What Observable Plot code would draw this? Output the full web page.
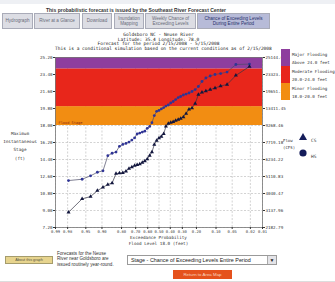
<!DOCTYPE html>
<html><head><meta charset="utf-8">
<script src="https://cdn.jsdelivr.net/npm/d3@7"></script>
<script src="https://cdn.jsdelivr.net/npm/@observablehq/plot@0.6"></script>
<style>
html,body{margin:0;padding:0;background:#fff;}
body{width:335px;height:282px;position:relative;overflow:hidden;font-family:"Liberation Sans",sans-serif;}
.a{position:absolute;white-space:nowrap;}
.tab{position:absolute;top:13px;height:16px;background:#dcdde4;border:1px solid #a9abb8;color:#6a6c7a;font-size:4.6px;line-height:5.5px;display:flex;align-items:center;justify-content:center;text-align:center;box-sizing:border-box;}
.tab.sel{background:#b7bbd8;color:#27306a;}
.mono{font-family:"DejaVu Sans Mono",monospace;}
.ttl{left:55px;width:207px;text-align:center;font-size:4.5px;color:#222;}
.lg{font-size:4.2px;color:#333;}
#chart{position:absolute;left:0;top:40px;}
</style></head><body>
<div class="a" style="left:0;top:0;width:335px;height:4px;background:#eef0f4;"></div>
<div class="a" style="left:0;top:7px;width:272px;text-align:center;font-size:5px;font-weight:bold;color:#333;">This probabilistic forecast is issued by the Southeast River Forecast Center</div>
<div class="tab" style="left:2px;width:31px;">Hydrograph</div>
<div class="tab" style="left:34px;width:46px;">River at a Glance</div>
<div class="tab" style="left:82px;width:30px;">Download</div>
<div class="tab" style="left:114px;width:30px;">Inundation<br>Mapping</div>
<div class="tab" style="left:145px;width:51px;">Weekly Chance of<br>Exceeding Levels</div>
<div class="tab sel" style="left:197px;width:73px;">Chance of Exceeding Levels<br>During Entire Period</div>

<div class="a mono ttl" style="top:32px;">Goldsboro NC - Neuse River</div>
<div class="a mono ttl" style="top:36.5px;">Latitude: 35.4   Longitude: 78.0</div>
<div class="a mono ttl" style="top:41px;">Forecast for the period 2/15/2008 - 5/15/2008</div>
<div class="a mono ttl" style="top:45.5px;">This is a conditional simulation based on the current conditions as of 2/15/2008</div>

<div id="chart"></div>

<div class="a mono" style="left:0;width:40px;top:130px;text-align:center;font-size:4.3px;line-height:8.2px;color:#333;">Maximum<br>Instantaneous<br>Stage<br>(ft)</div>
<div class="a mono" style="left:55px;width:207px;top:234.5px;text-align:center;font-size:4.3px;color:#333;">Exceedance Probability</div>
<div class="a mono" style="left:55px;width:207px;top:240.5px;text-align:center;font-size:4.3px;color:#333;">Flood Level 18.0 (feet)</div>

<div id="bandLegend"></div>
<div class="a mono" style="left:283px;top:137px;font-size:4px;line-height:7px;color:#333;">Flow<br>(CFS)</div>
<svg class="a" style="left:296px;top:130px;" width="30" height="32">
  <polygon points="7,3 11,10 3,10" fill="#141c5a"/>
  <circle cx="7" cy="23" r="3.6" fill="#141c5a"/>
  <text x="15" y="12" font-size="4.5" font-family="DejaVu Sans Mono" fill="#333">CS</text>
  <text x="15" y="28" font-size="4.5" font-family="DejaVu Sans Mono" fill="#333">HS</text>
</svg>

<div class="a" style="left:5px;top:256px;width:48px;height:8px;background:#e7d48e;border:1px solid #a59c6c;box-sizing:border-box;font-size:3.8px;line-height:6px;text-align:center;color:#554;">About this graph</div>
<div class="a" style="left:57px;top:251px;font-size:4.6px;line-height:5.4px;color:#333;">Forecasts for the Neuse<br>River near Goldsboro are<br>issued routinely year-round.</div>
<div class="a" style="left:127px;top:255px;width:150px;height:10px;border:1px solid #9a9a9a;box-sizing:border-box;font-size:5.4px;line-height:8px;padding-left:3px;color:#222;background:#fff;">Stage - Chance of Exceeding Levels Entire Period
  <div class="a" style="right:0;top:0;width:8px;height:8px;background:#e4e4e8;border-left:1px solid #aaa;font-size:5px;line-height:8px;text-align:center;">&#9660;</div></div>
<div class="a" style="left:173px;top:270px;width:59px;height:9px;background:#e5521d;font-size:4.4px;line-height:9px;text-align:center;color:#f8d8c0;">Return to Area Map</div>
<div class="a" style="left:0;top:281px;width:335px;height:1px;background:#ddd;"></div>

<script>
// ---- data ----
const exceedance = [0.979,0.958,0.938,0.917,0.896,0.875,0.854,0.833,0.813,0.792,0.771,0.750,0.729,0.708,0.688,0.667,0.646,0.625,0.604,0.583,0.563,0.542,0.521,0.500,0.479,0.458,0.438,0.417,0.396,0.375,0.354,0.333,0.313,0.292,0.271,0.250,0.229,0.208,0.188,0.167,0.146,0.125,0.104,0.083,0.063,0.042,0.021];
const hsStage = [12.17,12.31,12.67,13.05,13.2,14.8,15.06,15.19,15.8,16.0,16.1,16.25,16.46,16.7,17.1,17.2,17.3,17.4,17.7,17.9,18.3,19.05,19.5,19.6,19.75,19.9,20.06,20.17,20.38,20.54,20.75,20.96,21.07,21.23,21.33,21.44,21.6,21.8,22.13,22.66,23.03,23.24,23.4,23.5,23.66,24.46,24.5];
const csStage = [8.81,10.23,10.48,11.1,11.46,11.75,11.9,12.9,12.95,13.0,13.16,13.44,13.6,13.76,13.83,13.92,14.08,14.24,14.45,14.82,15.19,15.98,16.4,16.67,16.83,17.12,17.9,18.2,18.31,18.39,18.53,18.63,18.74,18.9,19.27,19.7,19.85,20.33,21.28,21.5,21.65,21.8,21.97,22.18,22.34,23.3,24.25];
const probTicks = [0.99,0.98,0.95,0.90,0.80,0.70,0.60,0.50,0.40,0.30,0.20,0.10,0.05,0.02,0.01];
const stageTicks = [7.2,9.0,10.8,12.6,14.4,16.2,18.0,19.8,21.6,23.4,25.2];
const flowLabels = ["2182.79","3137.96","4040.47","5110.83","6234.22","7719.18","9268.46","13411.45","19651.20","23323.40","25144.60"];
const bandNames = ["Minor Flooding","Moderate Flooding","Major Flooding"];
const bandRanges = ["18.0-20.0 feet","20.0-24.0 feet","Above 24.0 feet"];
const bandLow = [18, 20, 24];
const bandHigh = [20, 24, 25.2];
const bandColors = ["#f28d12","#e8261b","#8e3e9e"];
const floodStage = 18;

// inverse standard normal CDF (Acklam)
function probit(p){
  const a=[-39.69683028665376,220.9460984245205,-275.9285104469687,138.3577518672690,-30.66479806614716,2.506628277459239];
  const b=[-54.47609879822406,161.5858368580409,-155.6989798598866,66.80131188771972,-13.28068155288572];
  const c=[-0.007784894002430293,-0.3223964580411365,-2.400758277161838,-2.549671010937290,4.374664141464968,2.938163982698783];
  const d=[0.007784695709041462,0.3224671290700398,2.445134137142996,3.754408661907416];
  const pl=0.02425;
  if(p<pl){const q=Math.sqrt(-2*Math.log(p));return (((((c[0]*q+c[1])*q+c[2])*q+c[3])*q+c[4])*q+c[5])/((((d[0]*q+d[1])*q+d[2])*q+d[3])*q+1);}
  if(p>1-pl){const q=Math.sqrt(-2*Math.log(1-p));return -(((((c[0]*q+c[1])*q+c[2])*q+c[3])*q+c[4])*q+c[5])/((((d[0]*q+d[1])*q+d[2])*q+d[3])*q+1);}
  const q=p-0.5,r=q*q;
  return (((((a[0]*r+a[1])*r+a[2])*r+a[3])*r+a[4])*r+a[5])*q/(((((b[0]*r+b[1])*r+b[2])*r+b[3])*r+b[4])*r+1);
}
const xOf = p => probit(1 - p);

const hs = exceedance.map((p,i) => ({p, stage: hsStage[i]}));
const cs = exceedance.map((p,i) => ({p, stage: csStage[i]}));
const bands = bandLow.map((lo,i) => ({lo, hi: bandHigh[i], color: bandColors[i]}));
const xDom = [xOf(0.99), xOf(0.01)];
const yDom = [stageTicks[0], stageTicks[stageTicks.length-1]];
const tickX = probTicks.map(xOf);
const probLabel = new Map(probTicks.map(p => [xOf(p), p.toFixed(2)]));
const flowMap = new Map(stageTicks.map((s,i) => [s, flowLabels[i]]));

const chart = Plot.plot({
  width: 335, height: 210,
  marginLeft: 55, marginRight: 73, marginTop: 17, marginBottom: 23,
  style: {fontFamily: "DejaVu Sans Mono", background: "transparent", color: "#333"},
  x: {domain: xDom},
  y: {domain: yDom},
  marks: [
    Plot.ruleX(tickX, {stroke: "#b5b5b5", strokeWidth: 0.6, strokeDasharray: "2,1.5"}),
    Plot.ruleY(stageTicks, {stroke: "#b5b5b5", strokeWidth: 0.6, strokeDasharray: "2,1.5"}),
    Plot.rect(bands, {x1: () => xDom[0], x2: () => xDom[1], y1: "lo", y2: "hi", fill: "color"}),
    Plot.text([floodStage], {x: () => xDom[0], y: d => d, text: () => "Flood Stage", textAnchor: "start", dx: 3, dy: -2.5, fontSize: 3.6, fill: "#8a2a10"}),
    Plot.line(hs, {x: d => xOf(d.p), y: "stage", stroke: "#4a4a66", strokeWidth: 0.7}),
    Plot.line(cs, {x: d => xOf(d.p), y: "stage", stroke: "#333344", strokeWidth: 0.7}),
    Plot.dot(hs, {x: d => xOf(d.p), y: "stage", r: 1.4, fill: "#2f3496", symbol: "circle"}),
    Plot.dot(cs, {x: d => xOf(d.p), y: "stage", r: 1.5, fill: "#12163e", symbol: "triangle"}),
    Plot.frame({stroke: "#777", strokeWidth: 0.8}),
    Plot.axisY({ticks: stageTicks, tickFormat: d => d.toFixed(2), fontSize: 4.2, tickSize: 2, tickPadding: 1, label: null}),
    Plot.axisY({anchor: "right", ticks: stageTicks, tickFormat: d => flowMap.get(d), fontSize: 4.2, tickSize: 2, tickPadding: 1, label: null}),
    Plot.axisX({ticks: tickX, tickFormat: d => probLabel.get(d), fontSize: 3.8, tickSize: 2, tickPadding: 0.5, label: null})
  ]
});
document.getElementById("chart").appendChild(chart);

// flood category legend (top = Major)
const lg = document.getElementById("bandLegend");
[2,1,0].forEach((i, k) => {
  const top = 49 + k * 17;
  const box = document.createElement("div");
  box.className = "a";
  box.style.cssText = `left:281px;top:${top}px;width:9px;height:17px;background:${bandColors[i]};`;
  lg.appendChild(box);
  const t = document.createElement("div");
  t.className = "a mono lg";
  t.style.cssText = `left:292px;top:${top + 2}px;line-height:8px;`;
  t.innerHTML = bandNames[i] + "<br>" + bandRanges[i];
  lg.appendChild(t);
});
</script>
</body></html>
